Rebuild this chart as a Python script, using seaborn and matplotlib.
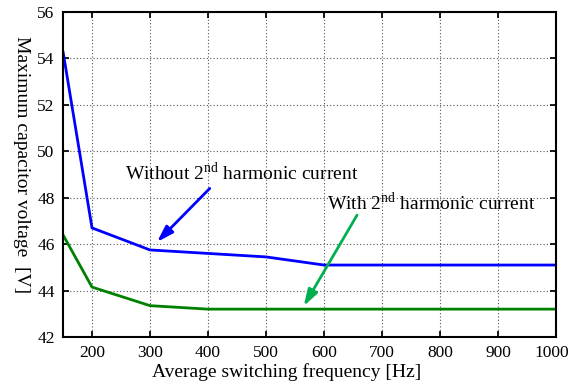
import matplotlib
matplotlib.use("Agg")
import matplotlib.pyplot as plt
import matplotlib.transforms as mtransforms
import seaborn as sns
import pandas as pd

freq = [150, 200, 300, 400, 500, 600, 700, 800, 900, 1000]
without_2nd = [54.3, 46.7, 45.75, 45.6, 45.45, 45.1, 45.1, 45.1, 45.1, 45.1]
with_2nd = [46.4, 44.15, 43.35, 43.2, 43.2, 43.2, 43.2, 43.2, 43.2, 43.2]
xticks = [200, 300, 400, 500, 600, 700, 800, 900, 1000]
yticks = [42, 44, 46, 48, 50, 52, 54, 56]

sns.set_theme(style="white")
plt.rcParams['font.family'] = ['Liberation Serif', 'DejaVu Serif']
plt.rcParams['mathtext.fontset'] = 'custom'
plt.rcParams['mathtext.rm'] = 'Liberation Serif'
plt.rcParams['text.color'] = 'black'
plt.rcParams['xtick.color'] = 'black'
plt.rcParams['ytick.color'] = 'black'
plt.rcParams['xtick.labelcolor'] = 'black'
plt.rcParams['ytick.labelcolor'] = 'black'

df = pd.DataFrame({"freq": freq + freq,
                   "v": without_2nd + with_2nd,
                   "case": ["without"] * len(freq) + ["with"] * len(freq)})

fig = plt.figure(figsize=(5.71, 3.83), dpi=100)
ax = fig.add_axes([63 / 571, 1 - 337 / 383, 493 / 571, 325 / 383])
sns.lineplot(data=df, x="freq", y="v", hue="case",
             palette={"without": "#0000ff", "with": "#008000"},
             linewidth=2, ax=ax, legend=False)

ax.set_xlim(150, 1000)
ax.set_ylim(42, 56)
ax.set_xticks(xticks)
ax.set_yticks(yticks)
ax.tick_params(labelsize=12.5, direction="in", length=4, color="black",
               labelcolor="black",
               right=True, top=True, left=True, bottom=True, pad=6)
ax.grid(True, linestyle=(0, (1, 2)), color="#555555", linewidth=0.8)
for s in ax.spines.values():
    s.set_color("black")
    s.set_linewidth(1.5)
ax.set_xlabel("")
ax.set_ylabel("")

fig.canvas.draw()
last = ax.get_xticklabels()[-1]
last.set_transform(last.get_transform() +
                   mtransforms.ScaledTranslation(-4 / 100, 0, fig.dpi_scale_trans))

fig.text(287 / 571, 1 - 372 / 383, "Average switching frequency [Hz]",
         fontsize=14, ha="center", va="center", color="black")
fig.text(21 / 571, 1 - 165 / 383, "Maximum capacitor voltage  [V]",
         fontsize=14, ha="center", va="center", rotation=270, color="black")

arrow_style = "-|>,head_length=0.7,head_width=0.22"
ax.annotate("", xy=(312, 46.09), xytext=(403, 48.4),
            arrowprops=dict(arrowstyle=arrow_style, color="#0000ff", lw=2,
                            mutation_scale=14, shrinkA=0, shrinkB=0))
ax.text(257, 48.76, "Without 2$^{\\mathrm{nd}}$ harmonic current", fontsize=14,
        va="baseline", ha="left", color="black")
ax.annotate("", xy=(565, 43.33), xytext=(657, 47.25),
            arrowprops=dict(arrowstyle=arrow_style, color="#00b050", lw=2,
                            mutation_scale=14, shrinkA=0, shrinkB=0))
ax.text(605, 47.47, "With 2$^{\\mathrm{nd}}$ harmonic current", fontsize=14,
        va="baseline", ha="left", color="black")

fig.savefig("out.png", dpi=100)
